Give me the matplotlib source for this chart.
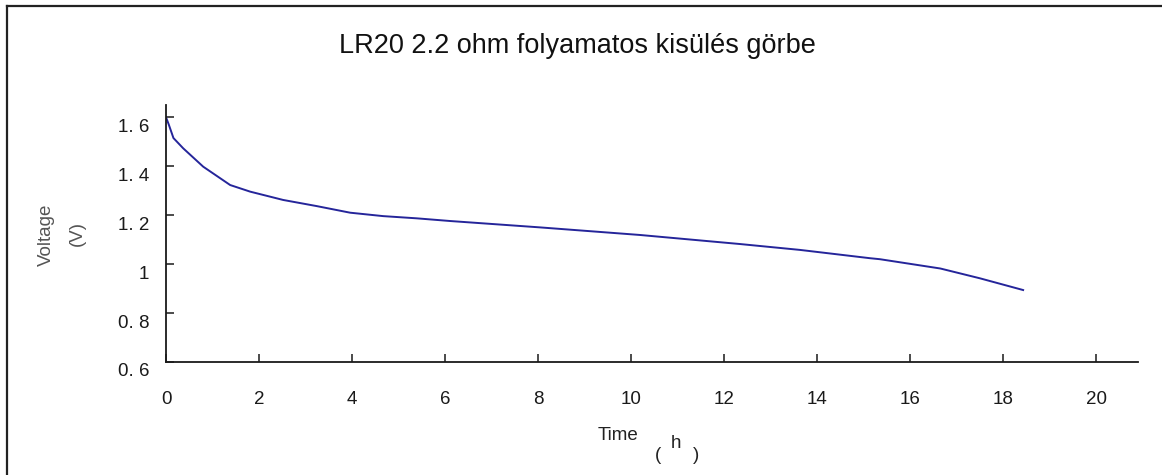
import matplotlib
matplotlib.use("Agg")
import matplotlib.pyplot as plt
from matplotlib.transforms import ScaledTranslation

# Discharge curve (time in h, voltage in V)
time_h = [0.0, 0.06, 0.16, 0.37, 0.80, 1.38, 1.81, 2.52, 3.24, 3.96, 4.67,
          5.39, 6.11, 8.04, 10.19, 12.34, 13.63, 15.14, 15.35, 16.65, 17.5, 18.43]
voltage = [1.60, 1.57, 1.515, 1.473, 1.398, 1.323, 1.296, 1.262, 1.237, 1.210, 1.196,
           1.187, 1.176, 1.150, 1.119, 1.082, 1.058, 1.024, 1.020, 0.982, 0.942, 0.894]

x_ticks = [0, 2, 4, 6, 8, 10, 12, 14, 16, 18, 20]
y_ticks = [0.6, 0.8, 1.0, 1.2, 1.4, 1.6]
y_tick_labels = ["0. 6", "0. 8", "1", "1. 2", "1. 4", "1. 6"]

TITLE = "LR20 2.2 ohm folyamatos kisülés görbe"

plt.rcParams['font.family'] = ['Liberation Sans', 'DejaVu Sans']

W, H = 1162, 475
fig = plt.figure(figsize=(W / 100, H / 100), dpi=100)
fig.patch.set_facecolor('white')

# axes placed in pixel terms
ax = fig.add_axes([166 / W, 1 - 362 / H, 972 / W, 257 / H])
ax.plot(time_h, voltage, color='#25259a', lw=1.4)

ax.set_xlim(0, 20.9)
ax.set_ylim(0.6, 1.65)
ax.set_xticks(x_ticks)
ax.set_yticks(y_ticks)
ax.set_yticklabels(y_tick_labels)

for side in ['top', 'right']:
    ax.spines[side].set_visible(False)
for side in ['left', 'bottom']:
    ax.spines[side].set_linewidth(1.3)
    ax.spines[side].set_color('#1a1a1a')

ax.tick_params(direction='in', length=5.5, width=1.1, colors='#1a1a1a', labelsize=13.5)
ax.tick_params(axis='x', pad=21)
ax.tick_params(axis='y', pad=12)

# y tick labels sit a little below their ticks in the original
for lab in ax.get_yticklabels():
    lab.set_transform(lab.get_transform() + ScaledTranslation(0, -8 / 100, fig.dpi_scale_trans))

# title
fig.text(577 / W, 1 - 46 / H, TITLE, ha='center', va='center', fontsize=19.5, color='#111111')

# y axis label in two columns
fig.text(46 / W, 1 - 235 / H, 'Voltage', rotation=90, ha='center', va='center',
         fontsize=13.5, color='#555555')
fig.text(77 / W, 1 - 234 / H, '(V)', rotation=90, ha='center', va='center',
         fontsize=13.5, color='#555555')

# x axis label with the odd bracket placement
fig.text(618 / W, 1 - 436 / H, 'Time', ha='center', va='center', fontsize=13.5, color='#222222')
fig.text(658 / W, 1 - 456 / H, '(', ha='center', va='center', fontsize=13.5, color='#222222')
fig.text(676 / W, 1 - 444 / H, 'h', ha='center', va='center', fontsize=13.5, color='#222222')
fig.text(696 / W, 1 - 456 / H, ')', ha='center', va='center', fontsize=13.5, color='#222222')

# frame lines on the top and left edge of the picture
fig.add_artist(plt.Line2D([7 / W, 1], [1 - 6 / H, 1 - 6 / H], color='#222222', lw=1.6))
fig.add_artist(plt.Line2D([7 / W, 7 / W], [0, 1 - 6 / H], color='#222222', lw=1.6))

fig.savefig('out.png', dpi=100, facecolor='white')
